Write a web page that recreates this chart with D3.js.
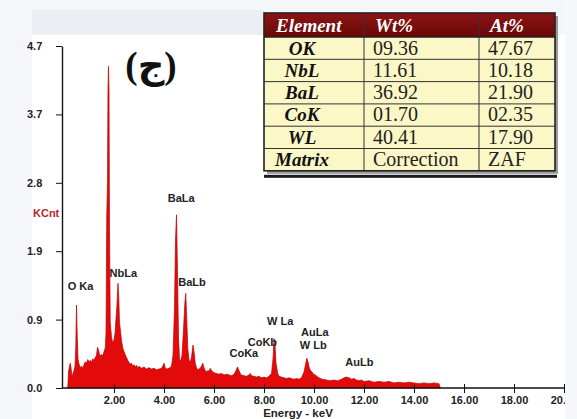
<!DOCTYPE html>
<html>
<head>
<meta charset="utf-8">
<script src="https://cdn.jsdelivr.net/npm/d3@7"></script>
<style>
  html, body { margin: 0; padding: 0; background: #f5f6fa; }
  svg { display: block; }
  .tick text { font-family: "Liberation Sans", Arial, sans-serif; font-weight: bold; font-size: 11px; fill: #222; }
  .lbl { font-family: "Liberation Sans", Arial, sans-serif; font-weight: bold; font-size: 11px; fill: #222; }
</style>
</head>
<body>
<div id="chart"></div>
<script>
// EDS spectrum: [energy keV, KCnt]
var spectrum = [
  [0.15,0.00],[0.18,0.22],[0.22,0.30],[0.25,0.34],[0.28,0.28],[0.32,0.15],[0.36,0.20],[0.40,0.24],
  [0.44,0.30],[0.47,0.55],[0.50,1.14],[0.53,0.70],[0.56,0.40],[0.60,0.33],[0.65,0.28],[0.70,0.30],
  [0.75,0.27],[0.80,0.32],[0.85,0.36],[0.90,0.34],[0.95,0.39],[1.00,0.36],[1.05,0.38],[1.10,0.35],
  [1.15,0.40],[1.20,0.38],[1.25,0.42],[1.30,0.45],[1.34,0.56],[1.38,0.52],[1.42,0.46],[1.46,0.44],
  [1.50,0.46],[1.55,0.44],[1.60,0.50],[1.65,0.55],[1.68,0.75],[1.71,2.35],[1.74,2.85],[1.76,4.12],
  [1.78,4.42],[1.80,4.10],[1.82,2.20],[1.85,0.90],[1.90,0.70],[1.95,0.62],[2.00,0.66],[2.04,0.75],
  [2.08,0.95],[2.12,1.15],[2.16,1.44],[2.19,1.25],[2.22,0.90],[2.26,0.78],[2.30,0.65],[2.35,0.55],
  [2.40,0.50],[2.45,0.46],[2.50,0.42],[2.55,0.38],[2.60,0.35],[2.65,0.33],[2.70,0.34],[2.75,0.30],
  [2.80,0.32],[2.85,0.29],[2.90,0.31],[2.95,0.28],[3.00,0.30],[3.10,0.27],[3.20,0.29],[3.30,0.26],
  [3.40,0.28],[3.50,0.26],[3.60,0.27],[3.70,0.25],[3.80,0.26],[3.90,0.27],[3.95,0.30],[4.00,0.34],
  [4.05,0.28],[4.10,0.26],[4.20,0.27],[4.30,0.30],[4.36,0.45],[4.42,1.10],[4.46,2.03],[4.50,2.38],
  [4.54,1.60],[4.58,0.70],[4.62,0.40],[4.66,0.36],[4.72,0.45],[4.78,0.80],[4.83,1.15],[4.87,1.30],
  [4.91,0.95],[4.95,0.55],[5.00,0.38],[5.05,0.36],[5.10,0.42],[5.16,0.59],[5.20,0.50],[5.25,0.34],
  [5.30,0.28],[5.35,0.25],[5.40,0.26],[5.45,0.27],[5.50,0.30],[5.55,0.34],[5.60,0.28],[5.65,0.24],
  [5.70,0.22],[5.75,0.24],[5.80,0.23],[5.85,0.27],[5.90,0.24],[6.00,0.21],[6.10,0.20],[6.20,0.19],
  [6.30,0.20],[6.40,0.18],[6.50,0.19],[6.60,0.18],[6.70,0.17],[6.80,0.19],[6.88,0.24],[6.94,0.29],
  [7.00,0.24],[7.08,0.18],[7.20,0.17],[7.30,0.16],[7.40,0.18],[7.45,0.20],[7.50,0.17],[7.60,0.16],
  [7.70,0.15],[7.80,0.16],[7.90,0.14],[8.00,0.15],[8.10,0.14],[8.20,0.16],[8.30,0.20],[8.36,0.40],
  [8.40,0.68],[8.44,0.60],[8.48,0.34],[8.55,0.20],[8.60,0.16],[8.70,0.15],[8.80,0.14],[8.90,0.13],
  [9.00,0.14],[9.10,0.13],[9.20,0.12],[9.30,0.13],[9.40,0.12],[9.50,0.14],[9.60,0.22],[9.66,0.32],
  [9.71,0.41],[9.76,0.36],[9.81,0.28],[9.86,0.24],[9.92,0.22],[9.98,0.19],[10.05,0.18],[10.15,0.15],
  [10.25,0.13],[10.35,0.12],[10.50,0.11],[10.65,0.10],[10.80,0.11],[10.95,0.10],[11.10,0.12],[11.20,0.14],
  [11.30,0.15],[11.40,0.14],[11.50,0.12],[11.60,0.13],[11.70,0.11],[11.80,0.10],[11.90,0.11],[12.00,0.09],
  [12.20,0.10],[12.40,0.08],[12.60,0.09],[12.80,0.08],[13.00,0.09],[13.20,0.07],[13.40,0.08],[13.60,0.07],
  [13.80,0.08],[14.00,0.07],[14.20,0.06],[14.40,0.07],[14.60,0.06],[14.80,0.07],[15.00,0.06],[15.05,0.00]
];

// peak labels: text, energy, count where the text sits
var peakLabels = [
  ["O Ka", 0.15, 1.34],
  ["NbLa", 1.82, 1.52],
  ["BaLa", 4.15, 2.56],
  ["BaLb", 4.57, 1.40],
  ["CoKa", 6.62, 0.43],
  ["CoKb", 7.35, 0.58],
  ["W La", 8.12, 0.86],
  ["AuLa", 9.48, 0.71],
  ["W Lb", 9.43, 0.53],
  ["AuLb", 11.25, 0.30]
];

var xTicks = [2, 4, 6, 8, 10, 12, 14, 16, 18, 20];
var yTicks = [0, 0.94, 1.88, 2.82, 3.76, 4.7];
var yTickLabels = ["0.0", "0.9", "1.9", "2.8", "3.7", "4.7"];

// quantification table
var tableHead = ["Element", "Wt%", "At%"];
var elements = ["OK", "NbL", "BaL", "CoK", "WL", "Matrix"];
var wtPct = ["09.36", "11.61", "36.92", "01.70", "40.41", "Correction"];
var atPct = ["47.67", "10.18", "21.90", "02.35", "17.90", "ZAF"];

var width = 577, height = 419;

var svg = d3.select("#chart").append("svg")
    .attr("width", width)
    .attr("height", height);

// background panels
svg.append("rect").attr("x", 0).attr("y", 0).attr("width", width).attr("height", height).attr("fill", "#f5f6fa");
svg.append("rect").attr("x", 32).attr("y", 10).attr("width", 232).attr("height", 26).attr("fill", "#edeef4");
svg.append("rect").attr("x", 32).attr("y", 35).attr("width", 533).attr("height", 384).attr("fill", "#ffffff");

var xScale = d3.scaleLinear().domain([0, 20]).range([64, 564]);
var yScale = d3.scaleLinear().domain([0, 4.7]).range([388, 46]);

var area = d3.area()
    .x(function(d) { return xScale(d[0]); })
    .y0(yScale(0))
    .y1(function(d) { return yScale(d[1]); });

svg.append("path")
    .datum(spectrum)
    .attr("d", area)
    .attr("fill", "#e20a0a")
    .attr("stroke", "#c00000")
    .attr("stroke-width", 0.7);

svg.selectAll(".peakLabel")
    .data(peakLabels)
  .enter()
    .append("text")
    .attr("class", "lbl peakLabel")
    .attr("x", function(d) { return xScale(d[1]); })
    .attr("y", function(d) { return yScale(d[2]); })
    .text(function(d) { return d[0]; });

var xAxis = d3.axisBottom(xScale)
    .tickValues(xTicks)
    .tickFormat(d3.format(".2f"))
    .tickSizeInner(5)
    .tickSizeOuter(0)
    .tickPadding(3);

var gx = svg.append("g")
    .attr("class", "x axis")
    .attr("transform", "translate(0," + yScale(0) + ")")
    .call(xAxis);
gx.select(".domain").attr("d", "M62,0H564").attr("stroke", "#111").attr("stroke-width", 1.6);
gx.selectAll(".tick line").attr("y1", -4).attr("stroke", "#111");

var yAxis = d3.axisLeft(yScale)
    .tickValues(yTicks)
    .tickFormat(function(d, i) { return yTickLabels[i]; })
    .tickSizeInner(6)
    .tickSizeOuter(0)
    .tickPadding(14);

var gy = svg.append("g")
    .attr("class", "y axis")
    .attr("transform", "translate(62,0)")
    .call(yAxis);
gy.select(".domain").attr("stroke", "#111").attr("stroke-width", 1.4);
gy.selectAll(".tick line").attr("stroke", "#111");
gy.selectAll(".tick text").attr("text-anchor", "start").attr("x", -35);

// right edge strip cuts the last tick label like the original
svg.append("rect").attr("x", 565).attr("y", 0).attr("width", 12).attr("height", height).attr("fill", "#f5f7fa");

svg.append("text")
    .attr("class", "lbl")
    .attr("x", 298)
    .attr("y", 417)
    .attr("text-anchor", "middle")
    .style("font-size", "11.5px")
    .text("Energy - keV");

svg.append("text")
    .attr("class", "lbl")
    .attr("x", 33)
    .attr("y", 217)
    .style("font-size", "11px")
    .style("fill", "#b3262a")
    .text("KCnt");

svg.append("text")
    .attr("x", 151)
    .attr("y", 78)
    .attr("text-anchor", "middle")
    .style("font-family", "'Liberation Serif', 'DejaVu Sans', serif")
    .style("font-weight", "bold")
    .style("font-size", "37px")
    .style("fill", "#111")
    .text("(ج)");

// table
var tx = 264, ty = 13, tw = 291, headH = 24, rowH = 22.3;
var colX = [264, 364, 479, 555];
var serif = "'Liberation Serif', 'Times New Roman', serif";
var tg = svg.append("g").attr("class", "table");

var tableH = headH + rowH * elements.length;

// drop shadow
tg.append("rect").attr("x", tx + 3).attr("y", ty + 3).attr("width", tw).attr("height", tableH).attr("fill", "#9a9a9a");

var grad = svg.append("defs").append("linearGradient")
    .attr("id", "headGrad").attr("x1", 0).attr("y1", 0).attr("x2", 0).attr("y2", 1);
grad.append("stop").attr("offset", "0%").attr("stop-color", "#8c1414");
grad.append("stop").attr("offset", "100%").attr("stop-color", "#6a0808");

tg.append("rect").attr("x", tx).attr("y", ty).attr("width", tw).attr("height", headH).attr("fill", "url(#headGrad)");
tg.append("rect").attr("x", tx).attr("y", ty + headH).attr("width", tw).attr("height", rowH * elements.length).attr("fill", "#fcf7c6");

tg.selectAll(".head")
    .data(tableHead)
  .enter()
    .append("text")
    .attr("x", function(d, i) { return i === 0 ? 276 : colX[i] + 11; })
    .attr("y", ty + 19)
    .style("font-family", serif)
    .style("font-weight", "bold")
    .style("font-style", "italic")
    .style("font-size", "19px")
    .style("fill", "#ffffff")
    .text(function(d) { return d; });

function rowY(i) { return ty + headH + rowH * i; }

tg.selectAll(".elem")
    .data(elements)
  .enter()
    .append("text")
    .attr("x", 302)
    .attr("y", function(d, i) { return rowY(i) + 17.5; })
    .attr("text-anchor", "middle")
    .style("font-family", serif)
    .style("font-weight", "bold")
    .style("font-style", "italic")
    .style("font-size", "19px")
    .style("fill", "#111")
    .text(function(d) { return d; });

tg.selectAll(".wt")
    .data(wtPct)
  .enter()
    .append("text")
    .attr("x", colX[1] + 9)
    .attr("y", function(d, i) { return rowY(i) + 17.5; })
    .style("font-family", serif)
    .style("font-size", "20px")
    .style("fill", "#222")
    .text(function(d) { return d; });

tg.selectAll(".at")
    .data(atPct)
  .enter()
    .append("text")
    .attr("x", colX[2] + 9)
    .attr("y", function(d, i) { return rowY(i) + 17.5; })
    .style("font-family", serif)
    .style("font-size", "20px")
    .style("fill", "#222")
    .text(function(d) { return d; });

// grid lines
tg.selectAll(".hline")
    .data(d3.range(1, elements.length))
  .enter()
    .append("line")
    .attr("x1", tx).attr("x2", tx + tw)
    .attr("y1", function(i) { return rowY(i); })
    .attr("y2", function(i) { return rowY(i); })
    .attr("stroke", "#333").attr("stroke-width", 1);

tg.selectAll(".vline")
    .data([colX[1], colX[2]])
  .enter()
    .append("line")
    .attr("x1", function(d) { return d; }).attr("x2", function(d) { return d; })
    .attr("y1", ty).attr("y2", ty + tableH)
    .attr("stroke", "#333").attr("stroke-width", 1);

tg.append("line").attr("x1", tx).attr("x2", tx + tw).attr("y1", ty + headH).attr("y2", ty + headH)
    .attr("stroke", "#222").attr("stroke-width", 1.5);
tg.append("rect").attr("x", tx).attr("y", ty).attr("width", tw).attr("height", tableH)
    .attr("fill", "none").attr("stroke", "#222").attr("stroke-width", 1.6);

// double rule under the table
tg.append("rect").attr("x", tx).attr("y", ty + tableH + 4).attr("width", tw + 2).attr("height", 3).attr("fill", "#1a1a1a");
</script>
</body>
</html>
